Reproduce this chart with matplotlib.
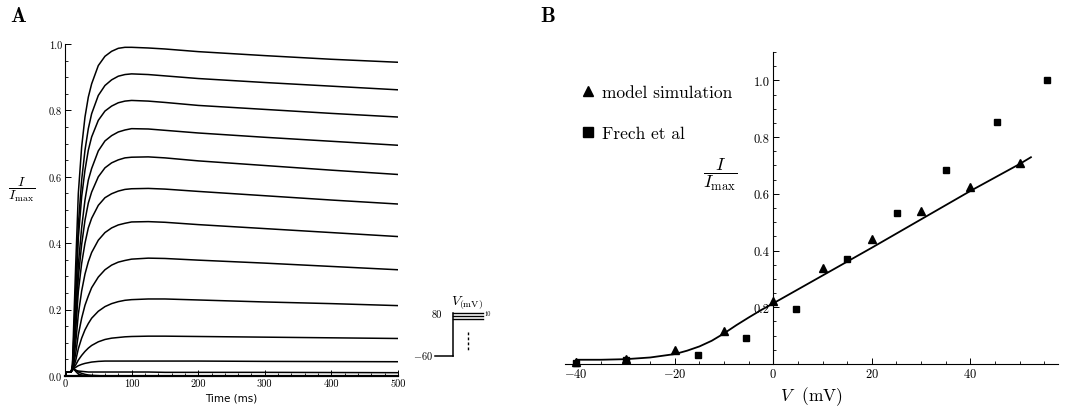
import matplotlib
matplotlib.use("Agg")
import matplotlib.pyplot as plt
from matplotlib.lines import Line2D
from matplotlib.ticker import MultipleLocator, FixedLocator

plt.rcParams['font.family'] = ['cmr10', 'DejaVu Serif']
plt.rcParams['mathtext.fontset'] = 'cm'
plt.rcParams['axes.formatter.use_mathtext'] = True
plt.rcParams['axes.unicode_minus'] = True

# ---------------- Panel A data: current traces ----------------
t_ms = [0, 2, 9, 11, 13, 16, 20, 25, 30, 35, 40, 50, 60, 70, 80, 90, 100,
        125, 150, 200, 300, 400, 500]
trace_01 = [0, .012, .012, .02, .15, .33, .55, .69, .78, .84, .88, .935, .963, .978, .987, .99, .99, .988, .985, .977, .965, .954, .945]
trace_02 = [0, .012, .012, .02, .11, .255, .455, .59, .68, .745, .79, .845, .875, .892, .903, .908, .91, .908, .904, .896, .884, .873, .862]
trace_03 = [0, .012, .012, .02, .10, .23, .415, .54, .62, .68, .72, .77, .798, .813, .823, .828, .83, .828, .824, .815, .803, .791, .78]
trace_04 = [0, .012, .012, .02, .075, .18, .335, .447, .53, .59, .625, .678, .708, .724, .735, .741, .745, .744, .74, .732, .719, .707, .695]
trace_05 = [0, .012, .012, .02, .066, .158, .297, .396, .469, .521, .554, .60, .627, .642, .651, .657, .659, .66, .657, .648, .634, .62, .607]
trace_06 = [0, .012, .012, .02, .057, .136, .254, .339, .40, .446, .475, .514, .537, .549, .557, .562, .564, .565, .563, .556, .543, .53, .518]
trace_07 = [0, .012, .012, .02, .047, .098, .186, .256, .307, .344, .372, .409, .432, .446, .455, .46, .464, .465, .463, .456, .444, .432, .42]
trace_08 = [0, .012, .012, .02, .035, .067, .124, .174, .213, .241, .266, .298, .32, .334, .343, .348, .352, .355, .354, .349, .34, .33, .32]
trace_09 = [0, .012, .012, .02, .027, .046, .082, .114, .139, .158, .174, .195, .209, .218, .224, .228, .23, .232, .232, .229, .223, .218, .212]
trace_10 = [0, .012, .012, .02, .025, .033, .048, .062, .074, .084, .092, .103, .11, .114, .116, .118, .119, .12, .12, .119, .117, .115, .113]
trace_11 = [0, .012, .012, .02, .022, .026, .031, .035, .038, .040, .042, .044, .045, .045, .045, .045, .045, .045, .045, .045, .044, .0435, .043]
trace_12 = [0, .012, .012, .02, .019, .017, .015, .014, .013, .012, .012, .012, .012, .012, .012, .012, .012, .012, .011, .011, .011, .0105, .010]
trace_13 = [0, .012, .012, .025, .022, .018, .012, .008, .005, .003, .002, .001, 0, 0, 0, 0, 0, 0, 0, 0, 0, 0, 0]
trace_14 = [0, .012, .012, .03, .022, .014, .006, .003, .001, 0, 0, 0, 0, 0, 0, 0, 0, 0, 0, 0, 0, 0, 0]
traces = [trace_01, trace_02, trace_03, trace_04, trace_05, trace_06, trace_07,
          trace_08, trace_09, trace_10, trace_11, trace_12, trace_13, trace_14]

A_xticks = [0, 100, 200, 300, 400, 500]
A_yticks = [0.0, 0.2, 0.4, 0.6, 0.8, 1.0]
A_yticklabels = ['0.0', '0.2', '0.4', '0.6', '0.8', '1.0']

# ---------------- Panel B data: I-V relation ----------------
V_model = [-40, -30, -20, -10, 0, 10, 20, 30, 40, 50]
I_model = [0.008, 0.018, 0.049, 0.117, 0.223, 0.337, 0.442, 0.541, 0.624, 0.708]
V_frech = [-40, -30, -15.2, -5.5, 4.6, 14.9, 25.2, 35.1, 45.4, 55.5]
I_frech = [0.002, 0.015, 0.031, 0.09, 0.194, 0.369, 0.531, 0.685, 0.854, 1.002]
V_fit = [-40, -35, -30, -25, -20, -17.5, -15, -12.5, -10, -7.5, -5, -2.5, 0,
         10, 20, 30, 40, 50, 52.3]
I_fit = [0.015, 0.015, 0.017, 0.023, 0.035, 0.047, 0.062, 0.082, 0.108, 0.137,
         0.164, 0.19, 0.214, 0.312, 0.41, 0.51, 0.61, 0.705, 0.729]
B_xticks = [-40, -20, 0, 20, 40]
B_xticklabels = ['$-40$', '$-20$', '$0$', '$20$', '$40$']
B_yticks = [0.2, 0.4, 0.6, 0.8, 1.0]
B_yticklabels = ['0.2', '0.4', '0.6', '0.8', '1.0']

W, H = 1072, 410
fig = plt.figure(figsize=(W / 100, H / 100), dpi=100)


def px_axes(x0, y0, x1, y1):
    return fig.add_axes([x0 / W, 1 - y1 / H, (x1 - x0) / W, (y1 - y0) / H])


# ---------------- Panel A ----------------
axA = px_axes(65, 44.5, 398, 377)
for tr in traces:
    axA.plot(t_ms, tr, color='black', lw=1.1, solid_joinstyle='round')
axA.set_xlim(0, 500)
axA.set_ylim(0, 1.0015)
for s in ['top', 'right']:
    axA.spines[s].set_visible(False)
for s in ['left', 'bottom']:
    axA.spines[s].set_linewidth(0.8)
axA.spines['bottom'].set_linewidth(1.6)
axA.set_xticks(A_xticks)
axA.set_xticklabels([str(v) for v in A_xticks])
axA.set_yticks(A_yticks)
axA.set_yticklabels(A_yticklabels)
axA.xaxis.set_minor_locator(MultipleLocator(20))
axA.yaxis.set_minor_locator(MultipleLocator(0.05))
axA.tick_params(which='major', direction='in', length=4, width=0.7, labelsize=7.5, pad=2)
axA.tick_params(which='minor', direction='in', length=2.2, width=0.6)
axA.set_xlabel('Time (ms)', fontsize=7.5, family='DejaVu Sans', labelpad=3)
fig.text(22 / W, 1 - 190 / H, r'$\dfrac{I}{I_{\max}}$', fontsize=10,
         ha='center', va='center')

# inset: voltage protocol schematic (pixel coordinates)
axI = px_axes(410, 290, 495, 365)
axI.set_xlim(410, 495)
axI.set_ylim(365, 290)
axI.axis('off')
axI.plot([435, 453.3], [356.5, 356.5], color='black', lw=1.1)
axI.plot([453.3, 453.3], [356.5, 314], color='black', lw=1.1)
for yy in [314, 317.2, 320.4]:
    axI.plot([453.3, 483], [yy, yy], color='black', lw=1.0)
axI.plot([468.3, 468.3], [333, 351], color='black', lw=1.0, dashes=(2, 1.6))
axI.text(442, 315, '80', fontsize=7.5, ha='right', va='center')
axI.text(433, 356.5, r'$-60$', fontsize=7.5, ha='right', va='center')
axI.text(484, 314.5, '10', fontsize=4.5, ha='left', va='center')
axI.text(451, 303, r'$V_{(\mathrm{mV})}$', fontsize=10, ha='left', va='center')

# ---------------- Panel B ----------------
axB = px_axes(565, 53, 1058, 365)
axB.plot(V_fit, I_fit, color='black', lw=1.3)
axB.plot(V_model, I_model, ls='none', marker='^', ms=5.5, color='black', clip_on=False)
axB.plot(V_frech, I_frech, ls='none', marker='s', ms=3.8, color='black', clip_on=False)
axB.set_xlim(-42.3, 57.8)
axB.set_ylim(0, 1.1)
axB.spines['left'].set_position(('data', 0))
axB.spines['bottom'].set_position(('data', 0))
for s in ['top', 'right']:
    axB.spines[s].set_visible(False)
for s in ['left', 'bottom']:
    axB.spines[s].set_linewidth(0.8)
axB.set_xticks(B_xticks)
axB.set_xticklabels(B_xticklabels)
axB.set_yticks(B_yticks)
axB.set_yticklabels(B_yticklabels)
axB.xaxis.set_minor_locator(MultipleLocator(5))
axB.yaxis.set_minor_locator(FixedLocator([0.05 * k for k in range(1, 23)]))
axB.tick_params(which='major', direction='in', length=4.5, width=0.7, labelsize=9, pad=2.5)
axB.tick_params(which='minor', direction='in', length=2.5, width=0.6)
axB.set_xlabel(r'$V$  (mV)', fontsize=12.5, labelpad=3)
fig.text(720 / W, 1 - 175 / H, r'$\dfrac{I}{I_{\max}}$', fontsize=13,
         ha='center', va='center')

handles = [Line2D([], [], ls='none', marker='^', ms=7.5, color='black'),
           Line2D([], [], ls='none', marker='s', ms=7.5, color='black')]
fig.legend(handles, ['model simulation', 'Frech et al'], loc='upper left',
           bbox_to_anchor=(582 / W, 1 - 86 / H), frameon=False, fontsize=12.5,
           handlelength=0.7, handletextpad=0.45, labelspacing=1.45,
           borderpad=0, borderaxespad=0)

# panel letters
fig.text(18 / W, 1 - 16 / H, 'A', fontsize=15, family='cmb10', ha='center', va='center')
fig.text(548 / W, 1 - 16 / H, 'B', fontsize=15, family='cmb10', ha='center', va='center')

fig.savefig('out.png', dpi=100, facecolor='white')
